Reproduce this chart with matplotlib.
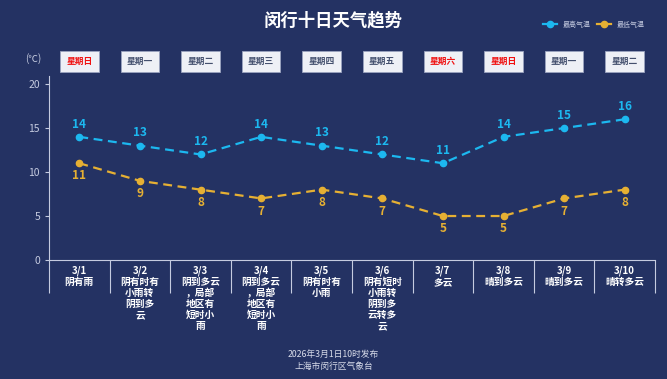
import matplotlib.pyplot as plt
import matplotlib.transforms as mtransforms

plt.rcParams['font.family'] = ['Noto Sans CJK SC', 'DejaVu Sans']

dates = ['3/1', '3/2', '3/3', '3/4', '3/5', '3/6', '3/7', '3/8', '3/9', '3/10']
weather = ['阴有雨', '阴有时有\n小雨转\n阴到多\n云', '阴到多云\n，局部\n地区有\n短时小\n雨',
           '阴到多云\n，局部\n地区有\n短时小\n雨', '阴有时有\n小雨', '阴有短时\n小雨转\n阴到多\n云转多\n云',
           '多云', '晴到多云', '晴到多云', '晴转多云']
weekdays = ['星期日', '星期一', '星期二', '星期三', '星期四', '星期五', '星期六', '星期日', '星期一', '星期二']
high = [14, 13, 12, 14, 13, 12, 11, 14, 15, 16]
low = [11, 9, 8, 7, 8, 7, 5, 5, 7, 8]

bg = '#243263'
c_high = '#1cb8f0'
c_low = '#e6b033'
axis_c = '#c5cbe0'

fig = plt.figure(figsize=(6.67, 3.79), dpi=100, facecolor=bg)
ax = fig.add_axes([0.0735, 0.314, 0.9085, 0.485])
ax.set_facecolor(bg)

x = list(range(len(dates)))
ax.plot(x, high, color=c_high, lw=1.6, ls=(0, (4, 2.5)), marker='o', ms=4.5, label='最高气温')
ax.plot(x, low, color=c_low, lw=1.6, ls=(0, (4, 2.5)), marker='o', ms=4.5, label='最低气温')
for i in x:
    ax.annotate(str(high[i]), (i, high[i]), xytext=(0, 4.5), textcoords='offset points',
                ha='center', va='bottom', color=c_high, fontsize=8.5, fontweight='bold')
    ax.annotate(str(low[i]), (i, low[i]), xytext=(0, -4.5), textcoords='offset points',
                ha='center', va='top', color=c_low, fontsize=8.5, fontweight='bold')

ax.set_xlim(-0.5, 9.5)
ax.set_ylim(0, 20.9)
ax.set_yticks([0, 5, 10, 15, 20])
ax.tick_params(axis='y', colors=axis_c, labelsize=7.5, length=3, width=0.8)
ax.set_xticks([i - 0.5 for i in range(11)])
ax.set_xticklabels([])
ax.tick_params(axis='x', which='major', colors=axis_c, length=24, width=0.8)
ax.set_xticks(x, minor=True)
ax.set_xticklabels([d + '\n' + w for d, w in zip(dates, weather)], minor=True,
                   va='top', linespacing=1.12)
ax.tick_params(axis='x', which='minor', length=0, labelsize=7, labelcolor='white', pad=4)
for lab in ax.get_xticklabels(minor=True):
    lab.set_fontweight('bold')

for s in ['top', 'right']:
    ax.spines[s].set_visible(False)
for s in ['left', 'bottom']:
    ax.spines[s].set_color(axis_c)
    ax.spines[s].set_linewidth(0.8)

# weekday boxes above the plot
trans = mtransforms.blended_transform_factory(ax.transData, fig.transFigure)
for i, wd in enumerate(weekdays):
    col = '#f01010' if wd in ('星期日', '星期六') else '#44506e'
    ax.text(i, 0.838, wd, transform=trans, ha='center', va='center', fontsize=6.3,
            fontweight='bold', color=col,
            bbox=dict(boxstyle='square,pad=0.7', fc='#eef0f6', ec='#9aa3c0', lw=0.6))
fig.text(0.05, 0.845, '(℃)', color=axis_c, fontsize=7, ha='center', va='center')

fig.text(0.5, 0.945, '闵行十日天气趋势', color='white', fontsize=12.5, fontweight='bold',
         ha='center', va='center')
leg = ax.legend(loc='center', bbox_to_anchor=(0.89, 0.935), bbox_transform=fig.transFigure,
                ncol=2, frameon=False, fontsize=5, handlelength=2.0, columnspacing=1.0,
                handletextpad=0.8, labelcolor='#c5cbe0')
for h in leg.get_lines():
    h.set_linestyle('-')

fig.text(0.5, 0.065, '2026年3月1日10时发布', color='#d8dcea', fontsize=6.3, ha='center', va='center')
fig.text(0.5, 0.032, '上海市闵行区气象台', color='#d8dcea', fontsize=6.3, ha='center', va='center')

fig.savefig('out.png', dpi=100, facecolor=bg)
